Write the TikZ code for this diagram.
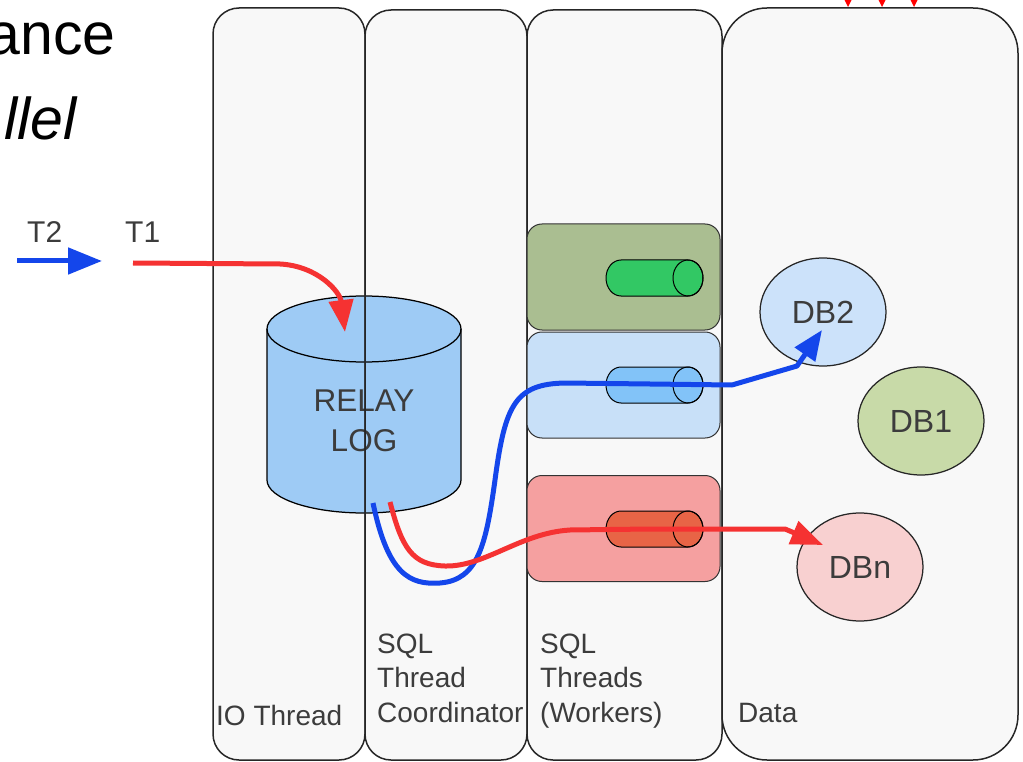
\documentclass[tikz,border=0pt]{standalone}
\usepackage{fontspec}
\setmainfont{Liberation Sans}
\usetikzlibrary{shapes.geometric,arrows.meta}
\definecolor{lanefill}{RGB}{248,248,248}
\definecolor{relaycol}{RGB}{158,203,245}
\definecolor{txt}{RGB}{60,60,60}
\definecolor{wgreenbox}{RGB}{170,190,145}
\definecolor{wbluebox}{RGB}{200,224,248}
\definecolor{wredbox}{RGB}{245,160,160}
\definecolor{qgreen}{RGB}{50,200,100}
\definecolor{qblue}{RGB}{130,195,248}
\definecolor{qred}{RGB}{232,100,70}
\definecolor{db1col}{RGB}{200,218,168}
\definecolor{db2col}{RGB}{204,226,250}
\definecolor{dbncol}{RGB}{248,208,208}
\definecolor{flowblue}{RGB}{20,70,235}
\definecolor{flowred}{RGB}{245,50,50}

\begin{document}
\begin{tikzpicture}
[every node/.style={inner sep=0pt},
 worker/.style={rectangle, rounded corners=15pt, minimum width=193pt, minimum height=106pt, line width=1pt, draw=black!80},
 db/.style={ellipse, minimum width=126pt, minimum height=108pt, line width=1.25pt, draw=black!85, text=txt, font=\fontsize{32}{36}\selectfont},
 lanetext/.style={text=txt, font=\fontsize{28}{34.5}\selectfont},
 blueflow/.style={line width=5pt, draw=flowblue, line join=round},
 redflow/.style={line width=5pt, draw=flowred, line join=round}]
\useasboundingbox (0pt,0pt) rectangle (1023pt,-762pt);
\foreach \xa/\xb/\ya/\r in {213/365/8/26, 365/527/10/26, 527/722/10/26, 722/1018/8/45}
  \fill[lanefill, rounded corners=\r pt] (\xa pt,-\ya pt) rectangle (\xb pt,-760pt);
\filldraw[fill=relaycol, line width=1.25pt] (267pt,-329pt) -- (267pt,-480pt) arc[start angle=180, end angle=360, x radius=97pt, y radius=33pt] -- (461pt,-329pt) arc[start angle=0, end angle=180, x radius=97pt, y radius=33pt] -- cycle;
\draw[line width=1.25pt] (461pt,-329pt) arc[start angle=0, end angle=-180, x radius=97pt, y radius=33pt];
\node (relay) [align=center, text=txt, font=\fontsize{31.5}{40}\selectfont] at (364pt,-421pt) {RELAY\\LOG};
\foreach \xa/\xb/\ya/\r in {213/365/8/26, 365/527/10/26, 527/722/10/26, 722/1018/8/45}
  \draw[black!85, line width=1.5pt, rounded corners=\r pt] (\xa pt,-\ya pt) rectangle (\xb pt,-760pt);
\node (wg) [worker, fill=wgreenbox] at (623.5pt,-277pt) {};
\node (wb) [worker, fill=wbluebox] at (623.5pt,-385pt) {};
\node (wr) [worker, fill=wredbox] at (623.5pt,-528.5pt) {};
\foreach \y/\c in {278/qgreen, 385/qblue, 529/qred} {
  \begin{scope}[shift={(0pt,-\y pt)}]
  \filldraw[fill=\c, line width=1pt] (688pt,18pt) -- (621pt,18pt) arc[start angle=90, end angle=270, x radius=15pt, y radius=18pt] -- (688pt,-18pt) arc[start angle=-90, end angle=90, x radius=15pt, y radius=18pt] -- cycle;
  \draw[line width=1pt] (688pt,0pt) ellipse[x radius=15pt, y radius=18pt];
  \end{scope}
}
\coordinate (qb) at (650pt,-384pt);
\coordinate (qr) at (650pt,-529pt);
\node (db2) [db, fill=db2col] at (823pt,-312pt) {DB2};
\node (db1) [db, fill=db1col] at (921pt,-421pt) {DB1};
\node (dbn) [db, fill=dbncol] at (860pt,-567pt) {DBn};
\coordinate (b2end) at (822pt,-330pt);
\coordinate (dnend) at (823pt,-545pt);
\coordinate (relaytop) at (345pt,-332pt);
\coordinate (t2start) at (17pt,-261pt);
\coordinate (t2end) at (102pt,-261pt);
\coordinate (t1start) at (133pt,-263pt);
\node (t2) [text=txt, font=\fontsize{30}{36}\selectfont, anchor=base west] at (27pt,-243pt) {T2};
\node (t1) [text=txt, font=\fontsize{30}{36}\selectfont, anchor=base west] at (125pt,-243pt) {T1};
\draw[blueflow, -{Triangle[length=34pt, width=26pt]}] (t2start) -- (t2end);
\draw[redflow, -{Triangle[length=32pt, width=24pt]}] (t1start) -- (280pt,-264pt) .. controls (318pt,-266pt) and (340pt,-292pt) .. (relaytop);
\draw[blueflow, -{Triangle[length=30pt, width=24pt]}] (373pt,-503pt) .. controls (388pt,-575pt) and (410pt,-585pt) .. (440pt,-583pt) .. controls (478pt,-580pt) and (486pt,-545pt) .. (495pt,-480pt) .. controls (505pt,-405pt) and (515pt,-384pt) .. (565pt,-383pt) -- (qb) -- (732pt,-385pt) -- (797pt,-366pt) -- (b2end);
\draw[redflow, -{Triangle[length=32pt, width=24pt]}] (390pt,-502pt) .. controls (402pt,-548pt) and (412pt,-565pt) .. (445pt,-566pt) .. controls (485pt,-567pt) and (520pt,-533pt) .. (570pt,-530pt) -- (qr) -- (785pt,-529pt) -- (dnend);
\foreach \x in {848,882,914}
  \fill[red, shift={(\x pt,0pt)}] (-3.5pt,0pt) -- (3.5pt,0pt) -- (0pt,-7pt) -- cycle;
\node (ttla) [anchor=base east, font=\fontsize{59}{60}\selectfont] at (116pt,-55pt) {ance};
\node (ttlb) [anchor=base east, font=\fontsize{59}{60}\selectfont\itshape] at (77pt,-140pt) {llel};
\node (io) [lanetext, anchor=base west] at (216pt,-725pt) {IO Thread};
\node (coord) [lanetext, anchor=base west, align=left] at (377pt,-722pt) {SQL\\Thread\\Coordinator};
\node (work) [lanetext, anchor=base west, align=left] at (540pt,-722pt) {SQL\\Threads\\(Workers)};
\node (data) [lanetext, anchor=base west] at (738pt,-722pt) {Data};
\end{tikzpicture}
\end{document}
